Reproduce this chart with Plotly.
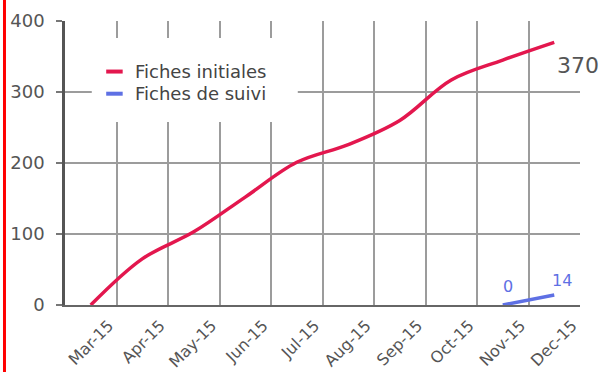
import plotly.graph_objects as go

# Monthly cumulative counts of records
months = ["Mar-15", "Apr-15", "May-15", "Jun-15", "Jul-15",
          "Aug-15", "Sep-15", "Oct-15", "Nov-15", "Dec-15"]
initiales = [0, 65, 103, 152, 201, 226, 260, 317, 345, 370]
suivi_months = ["Nov-15", "Dec-15"]
suivi = [0, 14]
y_ticks = [0, 100, 200, 300, 400]

RED = "#E3174E"
BLUE = "#5E70E4"
TEXT = "#555555"
GRID = "#9C9C9C"
FONT = "DejaVu Sans"

fig = go.Figure()
fig.add_trace(go.Scatter(
    x=months, y=initiales, mode="lines", name="Fiches initiales",
    line=dict(color=RED, width=3.5, shape="spline", smoothing=1.0),
    showlegend=False,
))
fig.add_trace(go.Scatter(
    x=suivi_months, y=suivi, mode="lines", name="Fiches de suivi",
    line=dict(color=BLUE, width=3.5),
    showlegend=False,
))

# Value labels at the series ends
fig.add_annotation(x=months[-1], y=initiales[-1], text=str(initiales[-1]),
                   showarrow=False, xshift=24, yshift=-23,
                   font=dict(family=FONT, size=22, color=TEXT))
fig.add_annotation(x=suivi_months[0], y=suivi[0], text=str(suivi[0]),
                   showarrow=False, xshift=5, yshift=19,
                   font=dict(family=FONT, size=16, color=BLUE))
fig.add_annotation(x=suivi_months[-1], y=suivi[-1], text=str(suivi[-1]),
                   showarrow=False, xshift=8, yshift=15,
                   font=dict(family=FONT, size=16, color=BLUE))

# Legend panel (white box masking the grid behind it)
fig.add_shape(type="rect", xref="paper", yref="paper",
              x0=0.052, x1=0.452, y0=0.644, y1=0.940,
              fillcolor="white", line=dict(width=0), layer="above")
legend_items = [("Fiches initiales", RED, 0.822), ("Fiches de suivi", BLUE, 0.744)]
for label, color, ypos in legend_items:
    fig.add_shape(type="line", xref="paper", yref="paper",
                  x0=0.080, x1=0.112, y0=ypos, y1=ypos,
                  line=dict(color=color, width=4), layer="above")
    fig.add_annotation(xref="paper", yref="paper", x=0.132, y=ypos,
                       xanchor="left", yanchor="middle", text=label,
                       showarrow=False,
                       font=dict(family=FONT, size=18, color="#444444"))

# Red edge bar on the left of the page
fig.add_shape(type="rect", xref="paper", yref="paper",
              x0=-0.1204, x1=-0.1146, y0=-0.24, y1=1.08,
              fillcolor="#FF0000", line=dict(width=0))

fig.update_layout(
    width=605, height=372,
    margin=dict(l=65, r=25, t=21, b=67, autoexpand=False),
    paper_bgcolor="white", plot_bgcolor="white",
    font=dict(family=FONT, color=TEXT),
)
fig.update_xaxes(
    type="category", range=[-0.5, 9.5], tickson="boundaries",
    automargin=False,
    showgrid=True, gridcolor=GRID, gridwidth=1.5,
    showline=True, linecolor="#666666", linewidth=2,
    ticks="", tickangle=-45, ticklabelshift=18, ticklabelstandoff=3,
    tickfont=dict(family=FONT, size=16, color=TEXT),
)
fig.update_yaxes(
    range=[0, 400], tickvals=y_ticks, automargin=False,
    showgrid=True, gridcolor=GRID, gridwidth=1.5, zeroline=False,
    showline=True, linecolor="#555555", linewidth=2.5,
    ticks="outside", ticklen=6, tickcolor="#777777", tickwidth=1.5,
    ticklabelstandoff=8,
    tickfont=dict(family=FONT, size=18, color=TEXT),
)

fig.write_html("out.html")
